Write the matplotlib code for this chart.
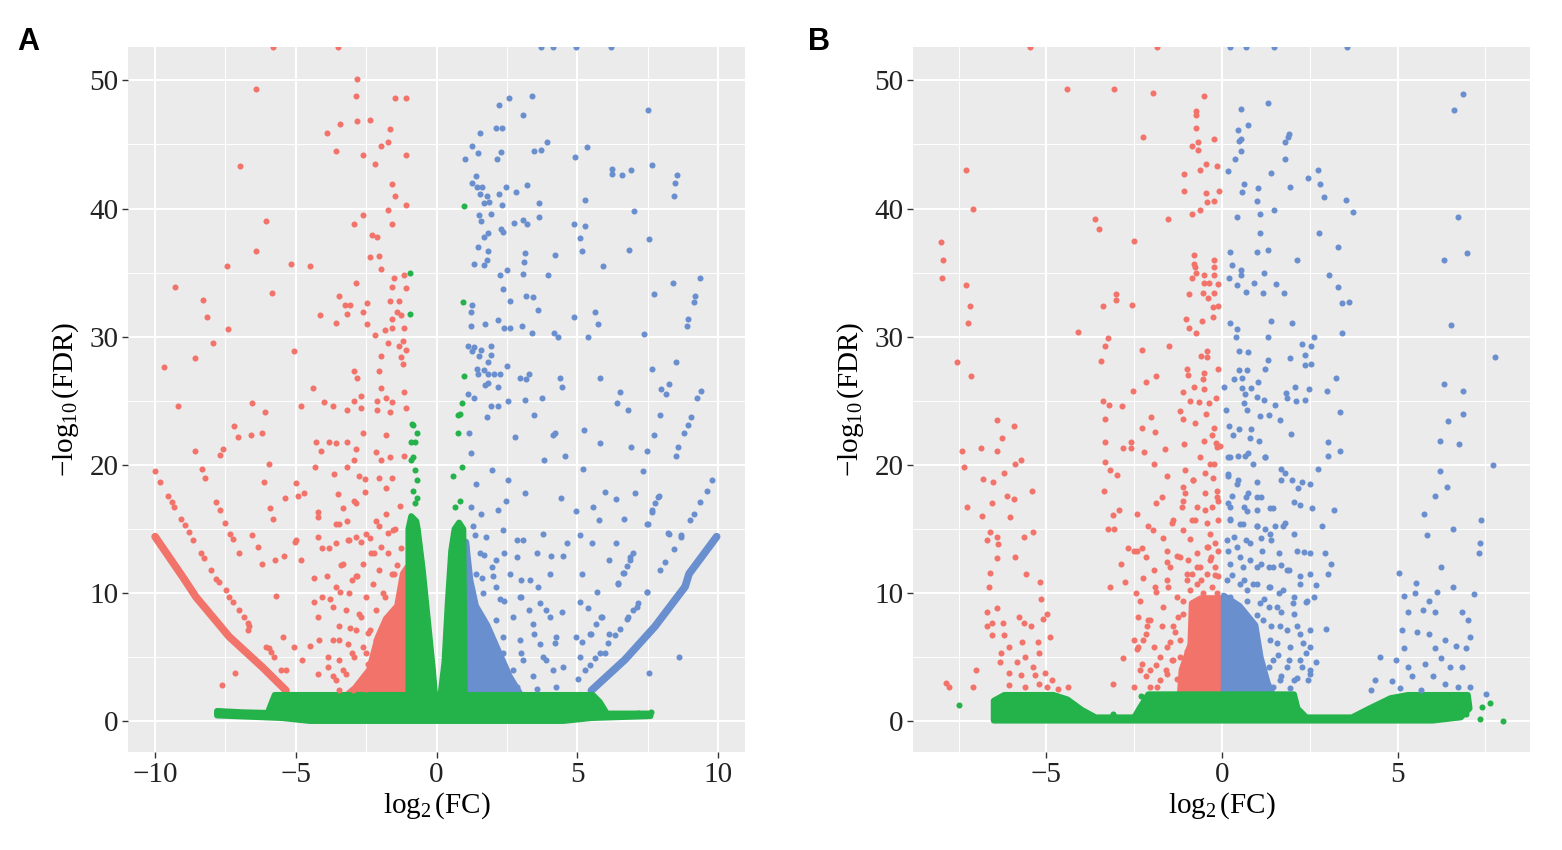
import numpy as np
import matplotlib
matplotlib.use('Agg')
import matplotlib.pyplot as plt

plt.rcParams['font.family'] = ['Liberation Serif', 'DejaVu Serif']
plt.rcParams['mathtext.fontset'] = 'custom'
plt.rcParams['mathtext.rm'] = 'Liberation Serif'
plt.rcParams['mathtext.it'] = 'Liberation Serif:italic'

RED = '#F2736A'
BLUE = '#6A8FCF'
GREEN = '#24B24B'

# ---------------- panel A data (log2FC, -log10 FDR) ----------------
a_red_pts = np.array([
    (-5.80, 52.6), (-3.49, 52.6), (-2.81, 50.1), (-6.40, 49.3), (-2.88, 48.8), (-1.49, 48.6), (-1.07, 48.6),
    (-3.42, 46.6), (-2.81, 46.8), (-2.38, 46.9), (-1.64, 46.2), (-3.91, 45.9), (-1.74, 45.2), (-1.99, 44.9),
    (-3.56, 44.5), (-2.63, 44.2), (-1.07, 44.2), (-2.17, 43.5), (-6.98, 43.3), (-1.57, 41.9), (-1.49, 41.0),
    (-1.07, 40.3), (-1.74, 39.9), (-2.63, 39.5), (-6.05, 39.0), (-2.95, 38.8), (-1.57, 38.8), (-2.28, 37.9),
    (-2.10, 37.8), (-6.41, 36.7), (-2.35, 36.2), (-2.03, 36.3), (-7.44, 35.5), (-5.16, 35.7), (-4.48, 35.5),
    (-1.96, 35.3), (-1.53, 34.6), (-1.14, 34.8), (-9.29, 33.9), (-2.85, 34.2), (-1.60, 33.9), (-1.07, 33.8),
    (-5.84, 33.4), (-8.29, 32.9), (-3.45, 33.2), (-3.24, 32.5), (-3.06, 32.5), (-2.46, 32.6), (-1.64, 32.8),
    (-1.35, 32.8), (-8.15, 31.5), (-4.13, 31.7), (-3.20, 31.8), (-2.60, 31.9), (-1.42, 31.9), (-1.25, 31.7),
    (-3.59, 31.1), (-2.46, 31.0), (-1.60, 31.4), (-7.40, 30.6), (-2.17, 30.1), (-1.85, 30.5), (-1.57, 30.7),
    (-1.14, 30.7), (-7.94, 29.5), (-1.71, 29.5), (-1.21, 29.7), (-1.32, 29.3), (-1.10, 29.0), (-5.05, 28.9),
    (-8.58, 28.3), (-1.96, 28.5), (-1.25, 28.4), (-9.68, 27.6), (-1.21, 27.9), (-2.92, 27.3), (-2.06, 27.3),
    (-2.81, 26.8), (-4.38, 26.0), (-1.96, 26.0), (-1.14, 25.7), (-2.67, 25.4), (-1.81, 25.2), (-9.18, 24.6),
    (-6.55, 24.8), (-4.80, 24.6), (-3.99, 24.9), (-3.67, 24.6), (-3.20, 24.3), (-2.92, 25.0), (-2.10, 25.0),
    (-1.57, 24.9), (-6.09, 24.1), (-2.70, 24.4), (-2.10, 24.3), (-1.64, 24.1), (-1.07, 24.4),
    (-6.58, 22.3), (-6.20, 22.5), (-7.05, 22.2), (-7.19, 23.0), (-7.69, 20.8), (-7.58, 21.2), (-8.58, 21.1),
    (-5.94, 20.1), (-10.0, 19.5), (-9.82, 18.7), (-8.33, 19.7), (-8.22, 19.0), (-6.12, 18.7), (-4.98, 18.6),
    (-4.91, 17.6), (-4.70, 17.8), (-5.37, 17.4), (-4.31, 19.8), (-3.63, 19.3), (-3.20, 19.8), (-2.95, 20.4),
    (-2.85, 21.2), (-4.27, 21.8), (-4.09, 21.1), (-3.81, 21.8), (-3.59, 21.7), (-3.17, 21.8), (-2.63, 22.5),
    (-1.81, 22.3), (-2.14, 21.0), (-1.96, 20.4), (-1.67, 20.6), (-1.17, 20.7), (-7.83, 17.1), (-7.69, 16.5),
    (-9.54, 17.6), (-9.40, 17.1), (-9.32, 16.7), (-9.07, 15.8), (-8.93, 15.3), (-8.79, 14.8), (-8.65, 14.1),
    (-8.36, 13.1), (-8.26, 12.7), (-7.51, 15.5), (-7.33, 14.6), (-7.22, 14.2), (-7.01, 13.1), (-6.55, 14.5),
    (-6.33, 13.6), (-6.19, 12.3), (-5.91, 16.6), (-5.80, 15.8), (-5.73, 12.6), (-5.41, 12.9), (-4.98, 14.1),
    (-4.80, 12.6), (-4.20, 16.3), (-4.20, 15.9), (-4.23, 14.4), (-4.06, 13.5), (-3.81, 13.5), (-3.59, 13.9),
    (-3.52, 17.7), (-3.31, 16.6), (-3.45, 15.4), (-3.20, 15.6), (-3.13, 14.1), (-3.38, 12.2), (-2.95, 17.2),
    (-2.85, 17.0), (-2.74, 19.1), (-2.53, 18.9), (-2.56, 17.9), (-2.85, 14.4), (-2.67, 14.0), (-2.38, 14.3),
    (-2.14, 15.6), (-1.81, 16.2), (-1.71, 14.7), (-1.46, 15.0), (-2.03, 19.0), (-1.78, 18.2), (-1.57, 19.0),
    (-2.24, 13.1), (-1.99, 13.6), (-2.81, 11.3), (-3.88, 11.3), (-4.34, 11.2),
    (-5.02, 14.0), (-5.69, 9.8), (-5.44, 6.6), (-7.15, 3.8), (-7.62, 2.8), (-6.69, 7.1), (-5.94, 5.7),
    (-5.05, 5.8), (-4.77, 4.8), (-4.48, 5.9), (-4.16, 6.3), (-4.34, 9.3), (-4.06, 9.7), (-3.77, 9.5),
    (-3.42, 10.1), (-2.99, 11.0), (-4.23, 8.1), (-3.84, 5.0), (-3.45, 6.3), (-3.06, 7.3), (-2.70, 8.1),
    (-2.99, 5.3), (-2.49, 5.3), (-2.42, 6.9), (-4.20, 3.7), (-3.59, 3.2), (-5.34, 4.0), (-3.31, 4.0),
    (-3.84, 4.2), (-1.40, 12.2), (-1.25, 13.5), (-1.60, 11.5), (-1.90, 10.0), (-1.30, 16.8),
    (-8.03, 11.8), (-7.83, 11.1), (-7.72, 10.9), (-7.48, 10.2), (-7.37, 9.7), (-7.25, 9.3), (-7.01, 8.7),
    (-6.83, 8.1), (-6.71, 7.7), (-6.65, 7.4), (-6.06, 5.8), (-5.88, 5.4), (-5.77, 5.0), (-5.53, 4.0),
])
# extra points from the crowded area left of the threshold
a_red_dense = np.array([
    (-3.57, 15.4), (-3.10, 14.1), (-2.50, 14.6), (-2.03, 15.2), (-1.56, 14.9), (-2.32, 13.1), (-1.73, 13.1),
    (-2.62, 12.3), (-3.33, 12.3), (-2.03, 11.8), (-1.50, 11.5), (-2.86, 11.3), (-2.27, 10.7), (-3.57, 10.5),
    (-3.10, 10.0), (-2.50, 9.7), (-1.85, 9.7), (-3.69, 8.9), (-3.21, 8.7), (-2.74, 8.4), (-2.15, 8.7),
    (-3.45, 7.4), (-2.86, 7.1), (-2.38, 7.1), (-3.69, 6.3), (-3.16, 6.0), (-2.62, 5.8), (-2.15, 6.3),
    (-3.45, 4.8), (-2.92, 5.0), (-2.44, 4.5), (-3.69, 3.5), (-3.21, 3.7), (-2.68, 3.2), (-2.27, 3.5),
    (-3.45, 2.4), (-2.98, 2.4), (-2.50, 2.5),
])

a_blue_pts = np.array([
    (3.70, 52.6), (4.13, 52.6), (4.95, 52.6), (6.19, 52.6), (3.38, 48.8), (2.56, 48.6), (2.21, 48.1),
    (7.51, 47.7), (3.06, 47.3), (1.53, 45.9), (2.10, 46.3), (2.31, 46.3), (1.25, 44.9), (1.00, 43.9),
    (1.46, 44.3), (2.14, 43.9), (2.28, 44.4), (3.45, 44.5), (3.70, 44.6), (3.91, 45.2), (5.34, 44.8),
    (4.91, 44.0), (7.65, 43.4), (6.23, 43.1), (6.23, 42.7), (6.58, 42.6), (6.90, 43.0), (8.54, 42.6),
    (8.47, 42.0), (8.43, 41.0), (1.39, 42.5), (1.25, 42.0), (1.42, 41.7), (1.60, 41.7), (1.53, 41.1),
    (1.78, 41.0), (2.46, 41.7), (2.81, 41.3), (3.20, 41.8), (2.21, 41.1), (1.67, 40.4), (1.85, 40.5),
    (2.31, 40.3), (3.63, 40.4), (5.27, 40.7), (7.01, 39.8), (1.49, 39.5), (1.57, 39.0), (1.92, 39.6),
    (2.74, 38.9), (3.06, 39.1), (3.20, 38.8), (3.63, 39.3), (2.28, 38.4), (2.35, 38.2), (4.88, 38.8),
    (5.27, 38.6), (1.67, 37.8), (1.81, 38.1), (5.09, 37.7), (7.54, 37.6), (1.46, 37.0), (1.81, 36.7),
    (3.13, 36.5), (4.20, 36.4), (5.16, 36.7), (6.83, 36.8), (1.32, 35.7), (1.67, 35.6), (1.78, 36.0),
    (3.10, 35.8), (5.91, 35.5), (2.24, 34.8), (2.49, 35.2), (3.06, 34.9), (3.95, 34.8), (9.36, 34.6),
    (8.40, 34.2), (2.35, 33.7), (3.17, 33.2), (3.42, 33.1), (2.60, 32.8), (7.72, 33.3), (9.18, 33.2),
    (9.15, 32.7), (1.25, 32.5), (1.21, 31.9), (3.59, 32.1), (4.88, 31.5), (5.62, 31.9), (5.73, 31.0),
    (8.93, 31.4), (8.90, 30.8), (1.21, 30.8), (1.71, 31.0), (2.17, 31.3), (2.38, 30.7), (2.60, 30.7),
    (3.02, 30.8), (3.38, 30.3), (4.16, 30.3), (4.31, 30.0), (5.37, 30.0), (7.37, 30.2), (1.10, 29.3),
    (1.32, 29.2), (1.25, 28.9), (1.57, 29.0), (1.92, 29.3), (1.49, 28.5), (1.92, 28.6), (1.81, 28.0),
    (2.49, 27.7), (8.51, 28.0), (1.42, 27.5), (1.67, 27.4), (1.46, 27.1), (1.81, 27.1), (2.03, 27.1),
    (2.24, 27.1), (2.95, 26.8), (3.17, 26.7), (3.27, 27.1), (4.38, 26.8), (5.80, 26.8), (7.65, 27.5),
    (1.71, 26.2), (1.81, 26.4), (2.17, 26.1), (4.45, 26.1), (8.26, 26.3), (7.97, 25.9), (8.15, 25.5),
    (9.40, 25.8), (9.25, 25.2), (6.51, 25.7), (1.10, 25.5), (1.32, 25.2), (2.53, 25.0), (3.13, 25.1),
    (3.74, 25.2), (1.92, 24.6), (2.17, 24.6), (6.41, 24.8), (6.80, 24.3),
    (5.98, 17.9), (6.37, 17.3), (6.90, 21.4), (7.33, 19.5), (7.94, 23.9), (7.72, 22.3), (7.47, 21.1),
    (5.80, 21.7), (5.23, 22.7), (5.20, 19.7), (4.56, 20.7), (4.20, 22.5), (3.81, 20.4), (4.41, 17.4),
    (5.55, 16.7), (4.95, 16.4), (5.77, 15.7), (6.65, 15.8), (7.05, 17.8), (7.65, 16.3), (7.86, 17.5),
    (8.22, 14.7), (8.68, 14.5), (7.47, 15.4), (6.37, 13.9), (5.52, 13.9), (5.09, 14.5), (4.63, 13.9),
    (4.06, 12.9), (4.48, 12.9), (6.12, 12.6), (6.65, 11.6), (6.87, 12.8), (5.16, 11.5), (6.44, 10.8),
    (5.69, 10.1), (5.09, 9.3), (5.37, 8.8), (4.45, 8.5), (7.47, 10.1), (7.12, 8.9), (6.80, 8.1),
    (5.84, 8.1), (6.12, 6.8), (5.48, 6.8), (4.95, 6.6), (8.61, 5.0), (7.54, 3.8), (2.99, 11.0),
    (3.59, 10.5), (3.88, 8.7), (3.27, 8.7), (2.99, 9.7), (2.38, 9.4), (3.45, 6.8), (4.20, 6.1),
    (3.88, 4.8), (4.48, 4.2), (2.99, 5.3), (5.09, 5.0), (5.98, 5.3), (2.38, 13.1), (1.96, 12.0),
    (2.85, 14.1), (3.13, 17.8), (2.53, 18.8), (1.96, 19.6), (1.21, 20.9), (1.78, 23.7), (2.78, 22.2),
    (3.45, 23.9), (4.13, 22.3), (1.21, 16.7), (1.57, 16.2), (2.17, 16.5), (2.46, 17.2), (1.40, 18.5),
    (1.15, 22.5), (1.35, 14.5), (1.70, 13.0), (2.10, 10.5), (1.60, 11.2),
    (9.78, 18.8), (9.60, 18.0), (9.36, 17.1), (9.15, 16.2), (9.00, 15.7), (8.11, 12.4), (7.94, 11.8),
    (7.46, 10.1), (7.16, 9.2), (6.99, 8.7), (6.75, 8.0), (6.51, 7.2), (6.33, 6.7), (6.10, 6.1),
    (5.80, 5.3), (5.62, 4.9), (5.44, 4.4), (5.27, 4.0), (5.03, 3.3),
    (9.03, 23.7), (8.92, 23.1), (8.80, 22.5), (8.59, 21.4), (8.49, 20.7), (7.91, 17.6), (7.76, 17.0),
    (7.64, 16.5), (7.50, 15.4), (6.99, 13.1), (6.87, 12.6), (6.75, 12.1), (6.63, 11.6), (6.45, 10.7),
    (5.86, 8.1), (5.68, 7.6), (5.44, 6.8), (5.15, 6.2), (8.26, 14.6), (8.68, 14.4), (8.44, 13.4),
])
a_blue_dense = np.array([
    (1.29, 15.2), (1.77, 14.4), (2.36, 14.9), (3.07, 14.1), (3.78, 14.6), (1.53, 13.1), (2.12, 12.6),
    (2.84, 12.8), (3.55, 13.1), (1.41, 11.5), (2.00, 11.3), (2.60, 11.5), (3.31, 11.0), (4.02, 11.5),
    (1.65, 10.0), (2.24, 9.5), (2.95, 9.7), (3.66, 9.2), (1.53, 8.4), (2.12, 7.9), (2.72, 8.1),
    (3.43, 7.6), (4.02, 8.1), (2.36, 6.6), (2.95, 6.3), (3.66, 6.0), (4.26, 6.6), (2.36, 5.3),
    (3.07, 4.8), (3.78, 5.0), (2.72, 4.0), (3.43, 3.5), (4.14, 4.0), (2.84, 2.7), (3.55, 2.5),
    (4.26, 2.7),
])

a_green_pts = np.array([
    (-0.96, 35.0), (-0.93, 31.8), (0.96, 40.2), (0.93, 32.7), (0.96, 26.9), (0.89, 24.8), (0.75, 23.9),
    (-0.89, 23.2), (-0.71, 22.5), (-0.78, 21.8), (-0.85, 20.6), (-0.71, 18.8), (-0.68, 17.4),
    (0.82, 24.0), (0.75, 22.5), (0.59, 19.1), (0.89, 19.8), (0.82, 17.2), (0.67, 16.7),
    (-0.83, 23.1), (-0.90, 21.8), (-0.90, 20.4), (-0.75, 19.6), (-0.83, 18.0), (-0.75, 17.0),
    (-7.78, 0.78), (-7.13, 0.65), (6.45, 0.60), (6.80, 0.60), (7.16, 0.65), (7.62, 0.70),
])

# dense clouds, traced as outlines
a_green_cloud = np.array([
    (-7.80, 0.45), (-7.80, 0.80), (-6.90, 0.70), (-6.00, 0.65), (-5.85, 1.50), (-5.75, 2.05),
    (-1.00, 2.05), (-1.00, 15.0), (-0.90, 16.0), (-0.72, 15.6), (-0.67, 15.0), (-0.49, 11.8),
    (-0.31, 7.9), (-0.13, 4.0), (0.00, 0.6), (0.06, 0.6), (0.28, 4.6), (0.40, 9.3), (0.52, 13.3),
    (0.64, 15.0), (0.80, 15.5), (0.95, 15.0), (1.00, 2.05), (5.55, 2.05), (5.80, 1.50), (6.05, 0.60),
    (7.60, 0.60), (7.60, 0.40), (5.50, 0.25), (4.50, 0.02), (-4.50, 0.02), (-5.50, 0.25),
])
a_red_cloud = np.array([
    (-1.05, 2.05), (-1.05, 12.0), (-1.20, 11.5), (-1.40, 9.0), (-1.80, 8.0), (-2.10, 6.5),
    (-2.40, 4.0), (-2.90, 2.6), (-3.20, 2.05),
])
a_blue_cloud = np.array([
    (1.05, 2.05), (1.05, 14.0), (1.20, 11.0), (1.40, 9.0), (1.80, 7.5), (2.20, 5.5), (2.60, 3.5),
    (3.00, 2.05),
])
# the two packed arcs at |log2FC| = 10 down to the threshold
a_red_arc = np.array([(-10.0, 14.4), (-9.0, 11.2), (-8.55, 9.7), (-7.37, 6.6), (-6.18, 4.2), (-5.35, 2.4)])
a_blue_arc = np.array([(9.95, 14.4), (8.97, 11.5), (8.83, 10.5), (7.76, 7.4), (6.69, 4.8), (5.5, 2.4)])

# ---------------- panel B data ----------------
b_red_pts = np.array([
    (-5.46, 52.6), (-1.84, 52.6), (-4.41, 49.3), (-3.07, 49.3), (-1.96, 49.0), (-0.50, 48.8), (-0.74, 47.6),
    (-0.75, 47.3), (-0.75, 46.3), (-2.24, 45.6), (-0.22, 45.4), (-0.69, 45.2), (-0.85, 44.9), (-0.69, 44.6),
    (-0.45, 43.5), (-0.15, 43.3), (-0.62, 43.0), (-1.09, 42.7), (-7.29, 43.0), (-1.07, 41.4), (-0.09, 41.4),
    (-0.45, 41.2), (-0.42, 40.5), (-0.24, 40.6), (-0.85, 39.6), (-0.64, 39.9), (-1.55, 39.2), (-7.08, 40.0),
    (-3.63, 39.2), (-3.51, 38.4), (-2.52, 37.5), (-7.99, 37.4), (-7.95, 36.0), (-7.96, 34.6), (-7.29, 34.0),
    (-7.19, 32.4), (-7.22, 31.1), (-7.56, 28.0), (-7.15, 26.9), (-4.09, 30.4), (-3.39, 32.4), (-3.03, 33.3),
    (-3.01, 32.9), (-2.56, 32.5), (-3.25, 29.9), (-3.34, 29.3), (-3.45, 28.1), (-2.28, 29.0), (-1.50, 29.3),
    (-0.81, 36.4), (-0.81, 35.7), (-0.23, 36.0), (-0.76, 35.4), (-0.23, 35.4), (-0.73, 35.0), (-0.50, 34.8),
    (-0.23, 34.8), (-0.85, 34.6), (-0.50, 34.2), (-0.38, 34.2), (-0.12, 34.1), (-0.93, 33.3), (-0.53, 33.4),
    (-0.24, 33.4), (-0.39, 33.0), (-0.27, 32.3), (-0.10, 32.4), (-1.02, 31.4), (-0.58, 31.2), (-0.25, 31.5),
    (-0.93, 30.7), (-0.75, 30.3), (-0.42, 28.9), (-0.60, 28.5), (-0.42, 28.4), (-1.00, 27.5), (-0.97, 27.0),
    (-0.11, 27.5), (-0.50, 27.2), (-0.55, 26.7), (-1.88, 26.9), (-2.17, 26.5), (-2.53, 25.8), (-3.40, 25.0),
    (-3.23, 24.7), (-2.85, 24.6), (-3.34, 23.6), (-1.10, 25.7), (-0.81, 26.1), (-0.50, 25.9), (-0.92, 25.0),
    (-0.65, 24.9), (-0.38, 24.8), (-0.18, 25.2), (-1.19, 24.2), (-1.10, 23.6), (-0.76, 23.3), (-0.45, 24.0),
    (-2.02, 23.7), (-2.28, 22.9), (-1.92, 22.6), (-6.40, 23.5), (-5.92, 23.0), (-6.26, 22.1), (-7.41, 21.1),
    (-6.87, 21.3), (-6.42, 21.1), (-5.73, 20.4), (-3.34, 21.8), (-2.81, 21.3), (-2.59, 21.3), (-2.59, 21.8),
    (-2.23, 21.0), (-1.62, 21.2), (-1.07, 21.6), (-0.52, 21.9), (-0.28, 22.3), (-0.22, 22.9), (-0.18, 21.7),
    (-0.07, 21.5),
    (-7.36, 19.8), (-6.80, 18.9), (-6.51, 18.7), (-6.20, 19.4), (-5.90, 20.1), (-7.25, 16.7), (-6.84, 16.0),
    (-6.55, 17.0), (-6.11, 17.6), (-5.93, 17.3), (-6.05, 15.9), (-5.40, 18.0), (-6.60, 14.8), (-6.40, 14.4),
    (-6.70, 14.1), (-5.64, 14.4), (-5.38, 14.8), (-6.37, 13.8), (-6.41, 12.7), (-5.90, 12.8), (-6.60, 11.6),
    (-5.59, 11.5), (-6.63, 10.5), (-5.18, 10.9), (-5.15, 9.5), (-6.70, 8.5), (-6.40, 8.8), (-6.55, 7.7),
    (-6.25, 7.7), (-5.79, 8.1), (-5.65, 7.7), (-5.44, 7.4), (-5.09, 8.0), (-4.97, 8.4), (-6.70, 7.4),
    (-6.55, 6.7), (-6.20, 6.7), (-6.08, 5.8), (-5.70, 6.2), (-5.24, 6.2), (-4.91, 6.6), (-6.28, 5.3),
    (-5.61, 5.0), (-5.20, 5.3), (-6.31, 4.6), (-5.85, 4.6), (-5.38, 4.2), (-5.03, 3.8), (-6.08, 3.8),
    (-5.73, 3.6), (-7.01, 4.0), (-7.85, 3.0), (-7.77, 2.7), (-7.09, 2.7), (-6.08, 2.8), (-5.61, 2.7),
    (-5.20, 2.9), (-4.85, 3.2), (-4.68, 2.5), (-4.39, 2.7), (-4.97, 2.7), (-5.32, 3.6),
    (-3.34, 20.2), (-3.20, 19.6), (-2.99, 19.2), (-3.36, 18.0), (-1.93, 20.1), (-1.58, 19.1), (-3.10, 16.1),
    (-2.93, 16.5), (-3.24, 15.0), (-3.08, 15.0), (-2.42, 16.2), (-2.11, 15.2), (-1.88, 17.0), (-1.70, 17.5),
    (-1.41, 15.5), (-1.12, 18.3), (-1.12, 17.2), (-0.83, 18.8), (-0.48, 19.4), (-0.24, 20.1), (-0.77, 15.7),
    (-0.48, 16.5), (-0.13, 17.5), (-2.69, 13.5), (-2.52, 13.3), (-2.28, 13.5), (-2.17, 12.8), (-2.87, 12.3),
    (-1.93, 11.8), (-1.58, 12.4), (-1.29, 12.9), (-1.00, 11.5), (-0.42, 13.6), (-0.30, 12.8), (-2.75, 10.9),
    (-3.20, 10.5), (-2.46, 10.0), (-1.88, 10.1), (-1.53, 10.5), (-2.40, 8.1), (-2.11, 7.9), (-1.70, 7.4),
    (-2.17, 6.8), (-2.52, 6.3), (-2.40, 5.8), (-1.93, 5.8), (-1.47, 6.2), (-2.81, 4.9), (-2.28, 4.5),
    (-1.88, 4.4), (-1.41, 4.8), (-2.17, 3.5), (-1.76, 3.2), (-1.29, 3.3), (-3.10, 2.9), (-2.52, 2.7),
    (-2.05, 2.7), (-1.12, 9.4), (-1.24, 8.1), (-1.00, 5.5), (-0.70, 12.0), (-0.90, 14.2), (-0.60, 11.0),
    (-0.20, 11.4), (-1.35, 7.0), (-1.20, 5.0), (-1.60, 4.0),
])
b_red_dense = np.array([
    (-0.34, 20.1), (-0.15, 21.4), (-0.63, 20.6), (-1.05, 19.6), (-0.82, 18.8), (-0.25, 19.0), (-0.15, 18.0),
    (-0.48, 17.8), (-1.05, 17.8), (-1.15, 16.7), (-0.72, 16.7), (-0.29, 16.7), (-0.10, 17.2), (-0.86, 15.7),
    (-0.43, 15.5), (-0.10, 15.7), (-1.10, 14.9), (-0.34, 14.6), (-0.20, 13.9), (-0.39, 13.6), (-0.10, 13.3),
    (-0.72, 13.1), (-1.20, 12.8), (-0.96, 12.6), (-0.34, 12.6), (-0.63, 12.0), (-0.20, 12.0), (-0.86, 11.5),
    (-0.43, 11.5), (-0.10, 11.3), (-1.01, 11.0), (-0.72, 10.7), (-0.29, 10.5), (-0.91, 10.2), (-0.53, 10.0),
    (-0.15, 10.0), (-1.58, 11.0), (-1.48, 12.0), (-1.67, 14.3), (-1.58, 13.3), (-1.96, 14.9), (-1.39, 15.7),
    (-1.29, 9.7), (-1.67, 8.9), (-1.10, 8.4), (-1.39, 7.4), (-1.20, 6.3), (-1.58, 5.8), (-1.77, 5.0),
    (-1.39, 4.8), (-2.05, 4.0), (-1.58, 3.7), (-1.20, 3.2), (-1.86, 2.7), (-2.24, 6.3), (-2.05, 7.9),
    (-2.34, 9.4), (-2.43, 13.3), (-2.24, 11.2), (-1.91, 10.5), (-2.15, 7.4), (-2.43, 5.6), (-2.34, 4.0),
])

b_blue_pts = np.array([
    (0.22, 52.6), (0.67, 52.6), (1.47, 52.6), (3.55, 52.6), (6.85, 48.9), (6.62, 47.7), (1.30, 48.2),
    (0.53, 47.8), (0.73, 46.5), (0.45, 46.1), (0.55, 45.4), (0.47, 45.3), (0.54, 44.5), (0.38, 43.9),
    (1.87, 45.6), (1.90, 45.8), (1.80, 45.2), (1.79, 43.9), (0.16, 42.9), (1.40, 42.8), (2.72, 43.0),
    (2.46, 42.4), (2.80, 41.9), (0.64, 41.9), (1.03, 41.6), (0.58, 41.3), (1.94, 41.7), (2.90, 40.9),
    (3.53, 40.7), (3.73, 39.7), (1.00, 40.6), (1.09, 39.6), (1.48, 39.9), (0.44, 39.3), (1.09, 38.1),
    (2.76, 38.1), (3.30, 37.0), (6.71, 39.3), (6.98, 36.5), (6.31, 36.0), (0.24, 36.6), (1.00, 36.6),
    (1.30, 36.8), (2.13, 36.0), (0.29, 35.6), (0.55, 35.2), (0.55, 34.8), (0.21, 34.6), (1.20, 35.0),
    (3.06, 34.8), (0.43, 34.0), (0.92, 34.2), (1.54, 34.1), (0.67, 33.5), (1.18, 33.4), (1.76, 33.4),
    (3.31, 33.9), (3.62, 32.7), (3.42, 32.6), (0.23, 31.1), (0.43, 30.6), (1.40, 31.2), (2.00, 31.1),
    (3.43, 30.3), (6.52, 30.9), (0.41, 30.0), (1.31, 30.0), (2.61, 30.0), (2.29, 29.4), (2.54, 29.3),
    (2.37, 28.6), (1.94, 28.3), (0.48, 28.9), (0.74, 28.8), (1.30, 28.2), (2.35, 27.8), (2.53, 27.9),
    (7.78, 28.4), (0.48, 27.4), (0.70, 27.4), (1.21, 27.5), (0.33, 26.7), (0.58, 26.8), (1.02, 26.5),
    (3.25, 26.8), (6.31, 26.3), (6.85, 25.8), (0.07, 26.1), (0.58, 26.0), (0.83, 26.0), (2.09, 26.1),
    (2.48, 25.9), (2.99, 25.8), (1.81, 25.6), (0.65, 25.5), (0.99, 25.3), (1.20, 25.1), (1.85, 25.2),
    (2.11, 25.0), (2.37, 25.1), (0.11, 24.3), (0.62, 24.8), (0.70, 24.3), (1.52, 24.7), (3.35, 24.1),
    (1.08, 23.8), (1.33, 23.9), (1.64, 23.5), (6.44, 23.4), (6.86, 24.0), (0.20, 23.0), (0.47, 22.8),
    (0.83, 22.8), (1.97, 22.4), (0.32, 22.3), (0.81, 22.1), (1.04, 21.9), (3.03, 21.8), (3.35, 21.1),
    (6.20, 21.9), (6.76, 21.6),
    (3.03, 20.7), (0.17, 20.6), (0.46, 20.7), (0.75, 20.9), (1.22, 20.6), (0.87, 20.1), (1.68, 19.7),
    (1.80, 19.4), (2.74, 19.7), (0.17, 19.1), (0.46, 18.8), (0.99, 18.7), (1.68, 18.8), (1.98, 18.8),
    (2.27, 18.7), (2.51, 18.5), (2.16, 18.2), (0.29, 17.6), (0.69, 17.5), (1.10, 17.5), (0.17, 17.0),
    (0.64, 16.7), (0.99, 16.5), (1.46, 16.6), (2.04, 17.1), (2.21, 16.9), (2.57, 16.6), (3.18, 16.5),
    (0.23, 15.8), (0.52, 15.4), (0.99, 15.2), (1.22, 15.0), (1.52, 15.2), (1.80, 15.5), (2.85, 15.2),
    (0.35, 14.4), (0.69, 14.1), (1.10, 14.3), (1.40, 14.1), (2.04, 14.6), (2.33, 13.2), (2.51, 13.1),
    (2.92, 13.1), (3.09, 12.3), (3.03, 11.5), (0.17, 13.3), (0.52, 12.8), (0.81, 12.6), (1.10, 12.3),
    (1.34, 12.0), (1.68, 12.2), (1.92, 11.8), (2.21, 11.3), (2.68, 10.6), (0.29, 11.4), (0.64, 11.0),
    (0.99, 10.7), (1.34, 10.5), (1.63, 10.0), (2.04, 9.7), (2.39, 9.3), (2.62, 9.7), (1.34, 8.9),
    (1.68, 8.5), (2.04, 8.4), (2.97, 7.2), (1.40, 7.4), (1.86, 7.1), (2.21, 6.8), (2.51, 5.8),
    (2.39, 5.3), (2.68, 4.6), (1.57, 6.1), (1.92, 4.8), (2.27, 4.2), (1.34, 4.2), (1.68, 3.5),
    (2.04, 3.2), (2.45, 3.2), (2.51, 3.7), (1.10, 2.9), (1.46, 2.7), (1.20, 9.5), (1.00, 8.3),
    (0.70, 10.2), (1.60, 5.2),
    (7.73, 20.0), (6.22, 19.5), (6.41, 18.3), (6.06, 17.6), (5.75, 16.2), (6.59, 15.0), (7.38, 15.7),
    (5.85, 14.5), (7.35, 13.9), (7.32, 13.1), (5.05, 11.6), (5.52, 10.8), (6.24, 12.0), (6.59, 10.5),
    (7.17, 9.9), (5.17, 9.8), (5.49, 10.0), (5.89, 9.4), (6.13, 10.1), (5.30, 8.5), (5.72, 8.7),
    (6.06, 8.5), (6.82, 8.5), (7.00, 7.9), (5.13, 7.1), (5.54, 7.0), (5.89, 6.8), (6.36, 6.3),
    (6.66, 5.9), (7.06, 6.6), (5.19, 5.7), (6.06, 5.7), (6.94, 5.7), (4.49, 5.0), (4.96, 4.8),
    (5.30, 4.2), (5.77, 4.5), (6.24, 4.9), (6.48, 4.2), (6.82, 4.2), (4.37, 3.2), (4.84, 3.1),
    (5.42, 3.5), (6.01, 3.5), (6.36, 2.9), (6.71, 2.7), (7.06, 2.7), (7.52, 2.1), (4.25, 2.4),
    (5.07, 2.6), (5.66, 2.4),
])
b_blue_dense = np.array([
    (0.23, 20.6), (0.66, 20.7), (1.23, 20.6), (0.18, 19.3), (0.42, 18.5), (0.75, 17.8), (0.99, 17.5),
    (0.23, 16.7), (0.70, 16.4), (1.37, 16.6), (0.23, 15.7), (0.61, 15.4), (0.99, 15.2), (1.37, 14.6),
    (1.75, 15.2), (0.13, 14.1), (0.42, 13.6), (0.80, 13.9), (1.13, 13.3), (1.61, 13.1), (2.13, 13.3),
    (0.23, 12.3), (0.61, 12.0), (0.99, 12.0), (1.46, 12.0), (1.84, 11.8), (2.51, 11.5), (0.13, 11.0),
    (0.51, 10.7), (0.89, 10.7), (1.37, 10.5), (1.75, 10.2), (2.22, 10.7), (0.23, 9.7), (0.70, 9.4),
    (1.08, 9.2), (1.56, 8.9), (2.03, 9.2), (2.41, 9.4), (1.18, 7.9), (1.65, 7.4), (2.13, 7.4),
    (2.51, 7.1), (1.37, 6.3), (1.94, 5.8), (2.32, 6.1), (1.46, 4.8), (1.84, 4.2), (2.22, 4.8),
    (1.18, 3.7), (1.65, 3.2), (2.13, 3.4), (2.51, 4.0), (1.27, 2.7), (1.94, 2.6),
])

b_green_pts = np.array([
    (-7.48, 1.3), (7.64, 1.4), (7.35, 0.2), (7.99, 0.0), (7.41, 1.1), (6.77, 0.6), (6.94, 0.6),
    (-3.10, 0.6), (-2.32, 2.0), (-2.32, 0.7), (-6.43, 1.5), (-6.46, 0.6),
])

b_green_cloud = np.array([
    (-6.50, 0.05), (-6.50, 1.60), (-6.20, 2.05), (-4.80, 2.05), (-4.40, 1.70), (-4.00, 0.90),
    (-3.60, 0.30), (-2.50, 0.30), (-2.35, 1.00), (-2.10, 2.10), (2.05, 2.10), (2.15, 1.00),
    (2.40, 0.30), (3.70, 0.30), (4.20, 1.00), (4.80, 1.80), (5.30, 2.05), (7.00, 2.05),
    (7.05, 1.00), (6.80, 0.30), (6.00, 0.05),
])
b_red_cloud = np.array([
    (-1.20, 2.05), (-1.15, 4.0), (-0.90, 6.0), (-0.86, 9.2), (-0.60, 9.6), (-0.05, 9.6), (-0.05, 2.05),
])
b_blue_cloud = np.array([
    (0.05, 2.05), (0.05, 9.8), (0.50, 9.0), (0.95, 7.5), (1.10, 5.0), (1.30, 3.0), (1.45, 2.05),
])

yticks = [0, 10, 20, 30, 40, 50]
a_xticks = [-10, -5, 0, 5, 10]
b_xticks = [-5, 0, 5]

PT = 19  # marker area


def style_axes(ax, xlim, xticks):
    ax.set_facecolor('#EBEBEB')
    ax.set_xlim(*xlim)
    ax.set_ylim(-2.4, 52.6)
    ax.set_xticks(xticks)
    ax.set_yticks(yticks)
    ax.set_xticks(np.arange(-7.5, 8, 5), minor=True)
    ax.set_yticks([5, 15, 25, 35, 45], minor=True)
    ax.grid(True, which='major', color='white', lw=1.5)
    ax.grid(True, which='minor', color='white', lw=0.7)
    ax.set_axisbelow(True)
    for s in ax.spines.values():
        s.set_visible(False)
    ax.tick_params(which='major', length=4, width=1, color='#333333', labelsize=21,
                   labelcolor='#222222', pad=3)
    ax.tick_params(which='minor', length=0)
    ax.set_xlabel(r'$\log_2$(FC)', fontsize=21, labelpad=2)
    ax.set_ylabel(r'$-\log_{10}$(FDR)', fontsize=21, labelpad=6)


def cloud(ax, pts, c):
    ax.fill(pts[:, 0], pts[:, 1], facecolor=c, edgecolor=c, lw=4.3, joinstyle='round', zorder=2)


def dots(ax, pts, c):
    ax.scatter(pts[:, 0], pts[:, 1], s=PT, c=c, linewidths=0, zorder=3)


fig = plt.figure(figsize=(15.62, 8.5), dpi=100)
axA = fig.add_axes([0.082, 0.1153, 0.395, 0.8294])
axB = fig.add_axes([0.5845, 0.1153, 0.395, 0.8294])

# panel A
style_axes(axA, (-10.96, 10.96), a_xticks)
cloud(axA, a_red_cloud, RED)
cloud(axA, a_blue_cloud, BLUE)
axA.plot(a_red_arc[:, 0], a_red_arc[:, 1], color=RED, lw=5.5, solid_capstyle='round', zorder=2)
axA.plot(a_blue_arc[:, 0], a_blue_arc[:, 1], color=BLUE, lw=5.5, solid_capstyle='round', zorder=2)
dots(axA, a_red_pts, RED)
dots(axA, a_red_dense, RED)
dots(axA, a_blue_pts, BLUE)
dots(axA, a_blue_dense, BLUE)
cloud(axA, a_green_cloud, GREEN)
dots(axA, a_green_pts, GREEN)

# panel B
style_axes(axB, (-8.8, 8.77), b_xticks)
cloud(axB, b_red_cloud, RED)
cloud(axB, b_blue_cloud, BLUE)
dots(axB, b_red_pts, RED)
dots(axB, b_red_dense, RED)
dots(axB, b_blue_pts, BLUE)
dots(axB, b_blue_dense, BLUE)
cloud(axB, b_green_cloud, GREEN)
dots(axB, b_green_pts, GREEN)

fig.text(0.011, 0.968, 'A', fontsize=22, fontweight='bold', family='Liberation Sans', va='top')
fig.text(0.517, 0.968, 'B', fontsize=22, fontweight='bold', family='Liberation Sans', va='top')

fig.savefig('out.png', dpi=100, facecolor='white')
